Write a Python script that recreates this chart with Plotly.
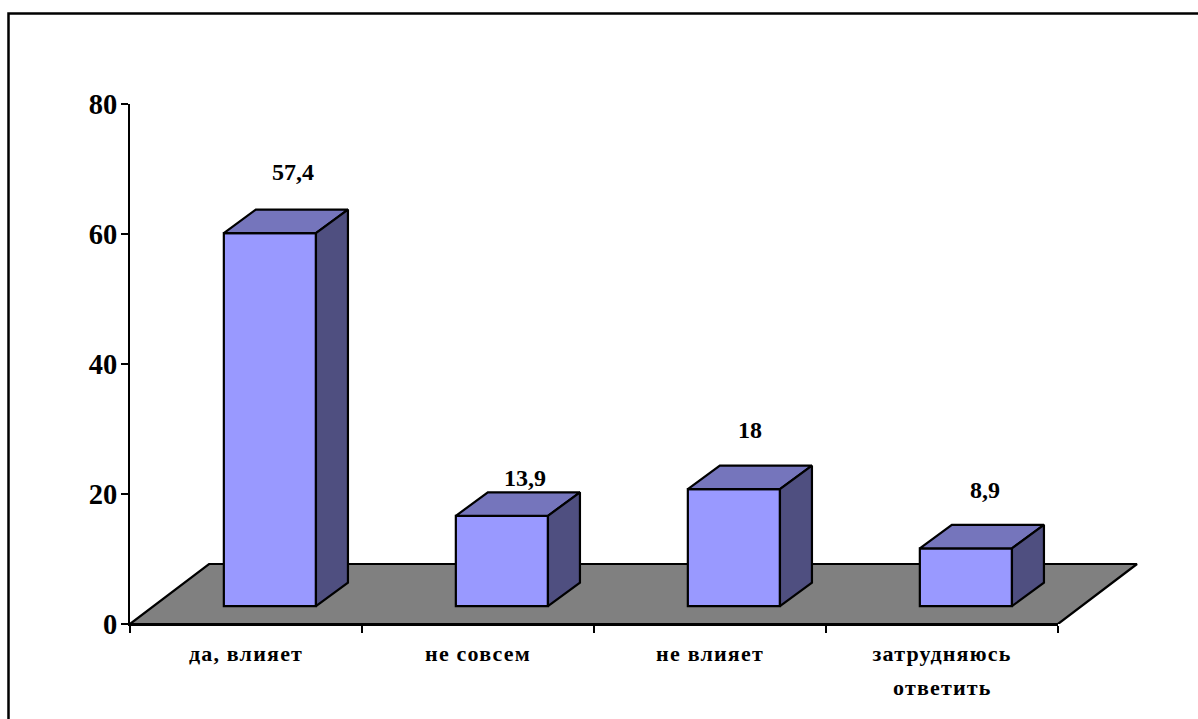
import plotly.graph_objects as go

categories = ["да, влияет", "не совсем", "не влияет", "затрудняюсь"]
second_lines = ["", "", "", "ответить"]
values = [57.4, 13.9, 18, 8.9]
y_ticks = [0, 20, 40, 60, 80]

# plot geometry in axis units
W, H = 1198, 719
L, R, T, B = 130, 1058, 104, 624.5
UNITS_WIDE = (W - L) / ((R - L) / 4)
BAR_C = 0.603
BAR_W = 0.397
BASE = 2.74
DX, DY = 32 / 232, 23.5 / 6.5
FLOOR_DX, FLOOR_DY = 79 / 232, 60 / 6.5
label_x = [0.703, 1.703, 2.672, 3.685]
label_lift = [11.8, 8.3, 11.6, 11.4]

FRONT, TOP, SIDE, FLOOR = "#9999FF", "#7575BC", "#4F4F80", "#808080"
FONT = "Liberation Serif"
CAT_FONT = dict(family=FONT, size=22, color="black", weight="bold")
SPACING = 1.2
EDGE = dict(color="black", width=2.2)

def spaced(t, px):
    return f'<span style="letter-spacing:{px}px">{t}</span>'

fig = go.Figure()

# floor on the wide hidden x axis, drawn first
fig.add_trace(go.Scatter(
    x=[0, FLOOR_DX, 4 + FLOOR_DX, 4, 0], y=[0, FLOOR_DY, FLOOR_DY, 0, 0],
    mode="lines", fill="toself", fillcolor=FLOOR, cliponaxis=False,
    line=EDGE, hoverinfo="skip", showlegend=False))

x_front = [i + BAR_C for i in range(len(values))]
fig.add_trace(go.Bar(
    x=x_front, y=values, base=BASE, width=BAR_W, xaxis="x2", yaxis="y",
    marker=dict(color=FRONT, line=EDGE), showlegend=False))

for xc, v in zip(x_front, values):
    x0, x1 = xc - BAR_W / 2, xc + BAR_W / 2
    t = BASE + v
    fig.add_trace(go.Scatter(
        x=[x0, x0 + DX, x1 + DX, x1, x0], y=[t, t + DY, t + DY, t, t],
        xaxis="x2", yaxis="y", mode="lines", fill="toself", fillcolor=TOP,
        line=EDGE, cliponaxis=False, hoverinfo="skip", showlegend=False))
    fig.add_trace(go.Scatter(
        x=[x1, x1 + DX, x1 + DX, x1, x1], y=[t, t + DY, BASE + DY, BASE, t],
        xaxis="x2", yaxis="y", mode="lines", fill="toself", fillcolor=SIDE,
        line=EDGE, cliponaxis=False, hoverinfo="skip", showlegend=False))

fig.add_trace(go.Scatter(
    x=label_x, y=[v + d for v, d in zip(values, label_lift)],
    text=[str(v).replace(".", ",") for v in values],
    xaxis="x2", yaxis="y", mode="text", textposition="middle center",
    textfont=dict(family=FONT, size=24, color="black", weight="bold"),
    cliponaxis=False, hoverinfo="skip", showlegend=False))

px = lambda x: (x - L) / (W - L)
py = lambda y: (B - y) / (B - T)

# second lines of the category labels
annotations = [
    dict(x=i + 0.5, y=py(688), xref="x2", yref="paper", yanchor="middle",
         text=spaced(s, SPACING), showarrow=False, font=CAT_FONT)
    for i, s in enumerate(second_lines) if s
]

border_x, border_y = 8.5, 13.5
shapes = [dict(type="path", xref="paper", yref="paper",
               path=f"M {px(W + 5)} {py(border_y)} L {px(border_x)} {py(border_y)} L {px(border_x)} {py(H + 5)}",
               line=dict(color="black", width=2.5), layer="above")]

fig.update_layout(
    width=W, height=H, margin=dict(l=L, r=0, t=T, b=H - B, pad=0),
    paper_bgcolor="white", plot_bgcolor="rgba(0,0,0,0)", showlegend=False, barmode="overlay",
    font=dict(family=FONT, color="black"),
    xaxis=dict(range=[0, UNITS_WIDE], domain=[0, 1], visible=False),
    xaxis2=dict(range=[0, 4], domain=[0, (R - L) / (W - L)], anchor="y",
                tickmode="array", tickvals=[i + 0.5 for i in range(4)],
                ticktext=[spaced(c, SPACING) for c in categories], ticks="", ticklen=0,
                tickfont=CAT_FONT,
                showgrid=False, zeroline=False, showline=True, linecolor="black", linewidth=2,
                ticklabelstandoff=9, layer="above traces",
                minor=dict(ticks="outside", ticklen=7, tickwidth=2, tickcolor="black",
                           tickmode="array", tickvals=list(range(5)), showgrid=False)),
    yaxis=dict(range=[0, 80], tickmode="array", tickvals=y_ticks, ticks="outside", ticklen=7,
               tickwidth=2, tickcolor="black",
               tickfont=dict(family=FONT, size=28.5, color="black", weight="bold"),
               showgrid=False, zeroline=False, showline=True, linecolor="black", linewidth=2,
               ticklabelstandoff=-2, layer="above traces"),
    annotations=annotations, shapes=shapes, hovermode=False,
)

fig.write_html("out.html", config=dict(displayModeBar=False),
               post_script="document.body.style.margin='0';document.body.style.overflow='hidden';")
